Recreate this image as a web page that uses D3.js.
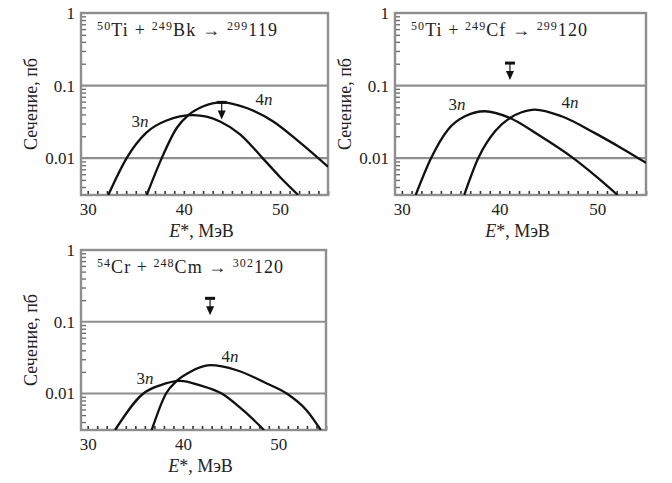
<!DOCTYPE html>
<html><head><meta charset="utf-8">
<script src="https://cdn.jsdelivr.net/npm/d3@7"></script>
<style>
body{margin:0;background:#fff}
svg{display:block;background:#fff}
text{font-family:"Liberation Serif","DejaVu Serif",serif;fill:#222}
</style>
</head><body>
<svg id="c" width="672" height="483"></svg>
<script>
// ---------- data ----------
const xDomain = [29.3, 55];
const yDomain = [0.0031, 1];
const xTicks = [30, 40, 50];
const xMinorTicks = d3.range(30, 56, 1);
const yTicks = [1, 0.1, 0.01];
const yTickLabels = ["1", "0.1", "0.01"];
const gridValues = [0.1, 0.01];
const yMinorTicks = [0.004,0.005,0.006,0.007,0.008,0.009,0.02,0.03,0.04,0.05,0.06,0.07,0.08,0.09,0.2,0.3,0.4,0.5,0.6,0.7,0.8,0.9];

const yTitle = "Сечение, пб";
const xTitleMain = "E";
const xTitleRest = "*, МэВ";

// reaction titles: [superscript, symbol] pairs
const titleTiBk = [["50","Ti  +  "],["249","Bk  →  "],["299","119"]];
const titleTiCf = [["50","Ti  +  "],["249","Cf  →  "],["299","120"]];
const titleCrCm = [["54","Cr  +  "],["248","Cm  →  "],["302","120"]];

// excitation energy E* (MeV), cross section (pb)
const tiBk3n = [[32.14,0.0031],[34.05,0.01],[36.1,0.0224],[38.2,0.033],[40.99,0.039],[43.76,0.032],[45.85,0.0213],[48.2,0.01],[50.0,0.0055],[51.9,0.0031]];
const tiBk4n = [[36.14,0.0031],[37.7,0.01],[39.26,0.026],[40.47,0.039],[42.03,0.0518],[43.94,0.0586],[46.54,0.049],[49.3,0.032],[52.1,0.0163],[55.0,0.0076]];
const tiCf3n = [[31.42,0.0031],[33.0,0.01],[34.76,0.025],[36.46,0.0377],[38.51,0.0442],[41.07,0.0357],[43.97,0.021],[47.55,0.01],[50.1,0.0053],[52.09,0.0031]];
const tiCf4n = [[36.39,0.0031],[37.83,0.01],[39.54,0.0234],[41.07,0.0357],[42.27,0.0428],[43.63,0.0467],[46.36,0.0377],[49.77,0.0221],[52.5,0.0137],[55.0,0.0086]];
const crCm3n = [[32.87,0.0031],[35.84,0.01],[37.59,0.013],[39.69,0.015],[41.79,0.013],[44.06,0.01],[46.33,0.0058],[48.5,0.0031]];
const crCm4n = [[36.72,0.0031],[38.22,0.01],[39.34,0.015],[40.74,0.020],[42.84,0.0248],[45.64,0.0211],[48.79,0.0138],[50.88,0.01],[52.98,0.0058],[54.45,0.0031]];

// experimental upper limits
const limitE = [43.94, 41.07, 42.84];
const limitSigma = [0.0586, 0.204, 0.212];

// curve label anchors (E, sigma)
const label3nE = [35.44, 35.65, 36.02];
const label3nS = [0.0268, 0.0459, 0.0136];
const label4nE = [48.34, 47.21, 44.93];
const label4nS = [0.0538, 0.049, 0.0275];

// ---------- layout ----------
const layout = [
  {x0:81, x1:328, y0:13, y1:195, tw:180},
  {x0:395, x1:646, y0:13, y1:195, tw:176},
  {x0:81, x1:326, y0:250, y1:430, tw:186}
];
const titles = [titleTiBk, titleTiCf, titleCrCm];
const curves3n = [tiBk3n, tiCf3n, crCm3n];
const curves4n = [tiBk4n, tiCf4n, crCm4n];

const svg = d3.select("#c");
const frameColor = "#8e8e8e";

layout.forEach((L, i) => {
  const x = d3.scaleLinear().domain(xDomain).range([L.x0, L.x1]);
  const y = d3.scaleLog().domain(yDomain).range([L.y1, L.y0]);
  const g = svg.append("g");

  g.append("clipPath").attr("id", "clip"+i).append("rect")
    .attr("x", L.x0).attr("y", L.y0).attr("width", L.x1-L.x0).attr("height", L.y1-L.y0);

  // grid lines
  g.selectAll(".grid").data(gridValues).enter().append("line")
    .attr("x1", L.x0).attr("x2", L.x1)
    .attr("y1", d => y(d)).attr("y2", d => y(d))
    .attr("stroke", frameColor).attr("stroke-width", 2.2);

  // minor ticks bottom (inward)
  const bMinor = g.append("g").attr("transform", `translate(0,${L.y1})`)
    .call(d3.axisBottom(x).tickValues(xMinorTicks).tickSize(-4).tickFormat(""));
  bMinor.select(".domain").remove();
  bMinor.selectAll("line").attr("stroke", "#333").attr("stroke-width", 1.6);

  // minor ticks left (inward)
  const lMinor = g.append("g").attr("transform", `translate(${L.x0},0)`)
    .call(d3.axisLeft(y).tickValues(yMinorTicks).tickSize(-5).tickFormat(""));
  lMinor.select(".domain").remove();
  lMinor.selectAll("line").attr("stroke", "#666").attr("stroke-width", 1.3);

  // frame
  g.append("rect").attr("x", L.x0).attr("y", L.y0)
    .attr("width", L.x1-L.x0).attr("height", L.y1-L.y0)
    .attr("fill", "none").attr("stroke", frameColor).attr("stroke-width", 2.4);

  // tick labels
  const bAx = g.append("g").attr("transform", `translate(0,${L.y1})`)
    .call(d3.axisBottom(x).tickValues(xTicks).tickSize(0).tickPadding(8));
  bAx.select(".domain").remove();
  bAx.selectAll("text").attr("font-size", 17).attr("font-family", "Liberation Serif").attr("fill", "#222");

  const lAx = g.append("g").attr("transform", `translate(${L.x0},0)`)
    .call(d3.axisLeft(y).tickValues(yTicks).tickFormat((d, k) => yTickLabels[k]).tickSize(0).tickPadding(6));
  lAx.select(".domain").remove();
  lAx.selectAll("text").attr("font-size", 17).attr("font-family", "Liberation Serif").attr("fill", "#222");

  // axis titles
  const cy = (L.y0 + L.y1) / 2;
  g.append("text")
    .attr("transform", `translate(${L.x0 - 44},${cy}) rotate(-90)`)
    .attr("text-anchor", "middle").attr("font-size", 18)
    .text(yTitle);
  const xt = g.append("text")
    .attr("x", (L.x0 + L.x1) / 2 - 3).attr("y", L.y1 + 42)
    .attr("text-anchor", "middle").attr("font-size", 18);
  xt.append("tspan").attr("font-style", "italic").text(xTitleMain);
  xt.append("tspan").text(xTitleRest);

  // reaction title
  const tt = g.append("text").attr("x", L.x0 + 16).attr("y", L.y0 + 23).attr("font-size", 18)
    .attr("textLength", L.tw).attr("lengthAdjust", "spacing");
  titles[i].forEach(p => {
    tt.append("tspan").attr("font-size", 12).attr("dy", -6).text(p[0]);
    tt.append("tspan").attr("dy", 6).text(p[1]);
  });

  // curves
  const line = d3.line().x(d => x(d[0])).y(d => y(d[1])).curve(d3.curveMonotoneX);
  const cg = g.append("g").attr("clip-path", `url(#clip${i})`);
  [curves3n[i], curves4n[i]].forEach(c => {
    cg.append("path").datum(c).attr("d", line)
      .attr("fill", "none").attr("stroke", "#111").attr("stroke-width", 2.3);
  });

  // curve labels
  [[label3nE[i], label3nS[i], "3"], [label4nE[i], label4nS[i], "4"]].forEach(l => {
    const t = g.append("text").attr("x", x(l[0])).attr("y", y(l[1]))
      .attr("text-anchor", "middle").attr("font-size", 17);
    t.append("tspan").text(l[2]);
    t.append("tspan").attr("font-style", "italic").text("n");
  });

  // upper-limit marker
  const mx = x(limitE[i]), my = y(limitSigma[i]);
  g.append("rect").attr("x", mx - 5).attr("y", my - 1.5).attr("width", 10).attr("height", 3).attr("fill", "#111");
  g.append("line").attr("x1", mx).attr("x2", mx).attr("y1", my).attr("y2", my + 10)
    .attr("stroke", "#111").attr("stroke-width", 1.2);
  g.append("path")
    .attr("d", `M${mx-4},${my+8}L${mx+4},${my+8}L${mx},${my+17}Z`)
    .attr("fill", "#111");
});
</script>
</body></html>
